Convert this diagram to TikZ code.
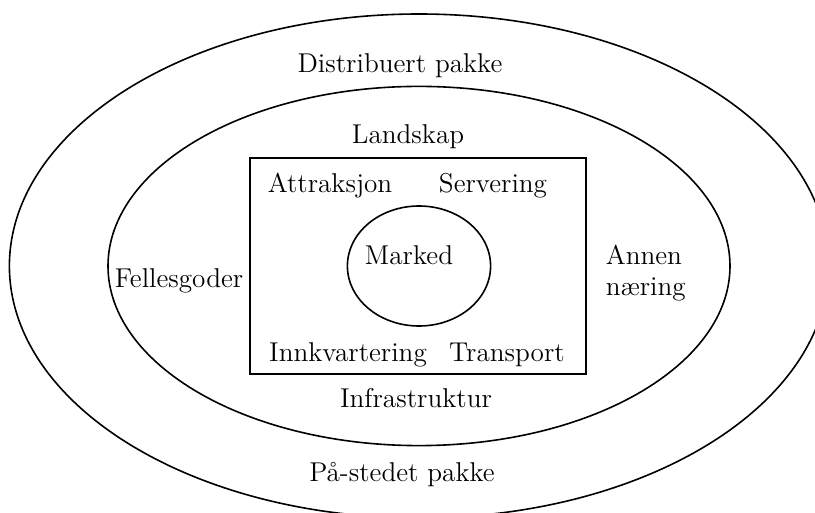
\documentclass[tikz,border=0pt]{standalone}
\begin{document}
\begin{tikzpicture}[x=.5pt,y=-.5pt,line width=.8pt,
  lbl/.style={anchor=base,inner sep=0pt,font=\fontsize{13.6}{15.5}\selectfont}]
  \useasboundingbox (0,0) rectangle (815,513);
  \clip (0,0) rectangle (815,513);
  \coordinate (cen) at (419,266);
  \draw (cen) ellipse [x radius=204.8pt, y radius=126pt];
  \draw (cen) ellipse [x radius=155.5pt, y radius=89.8pt];
  \draw (250,158) rectangle (586,374);
  \draw (cen) ellipse [x radius=35.8pt, y radius=30pt];
  % ytre ring
  \node[lbl] (dist) at (400,73) {Distribuert pakke};
  \node[lbl] (stedet) at (402,481) {P{\aa}-stedet pakke};
  % midtre ring
  \node[lbl] (land) at (408,144) {Landskap};
  \node[lbl] (infra) at (416,408) {Infrastruktur};
  \node[lbl] (felles) at (179,288) {Fellesgoder};
  \node[lbl,anchor=base west,align=left] (annen) at (605,296) {Annen\\n{\ae}ring};
  % boksen
  \node[lbl] (attr) at (330,193) {Attraksjon};
  \node[lbl] (serv) at (493,193) {Servering};
  \node[lbl] (innk) at (348,362) {Innkvartering};
  \node[lbl] (trans) at (507,362) {Transport};
  \node[lbl] (marked) at (409,265) {Marked};
\end{tikzpicture}
\end{document}
